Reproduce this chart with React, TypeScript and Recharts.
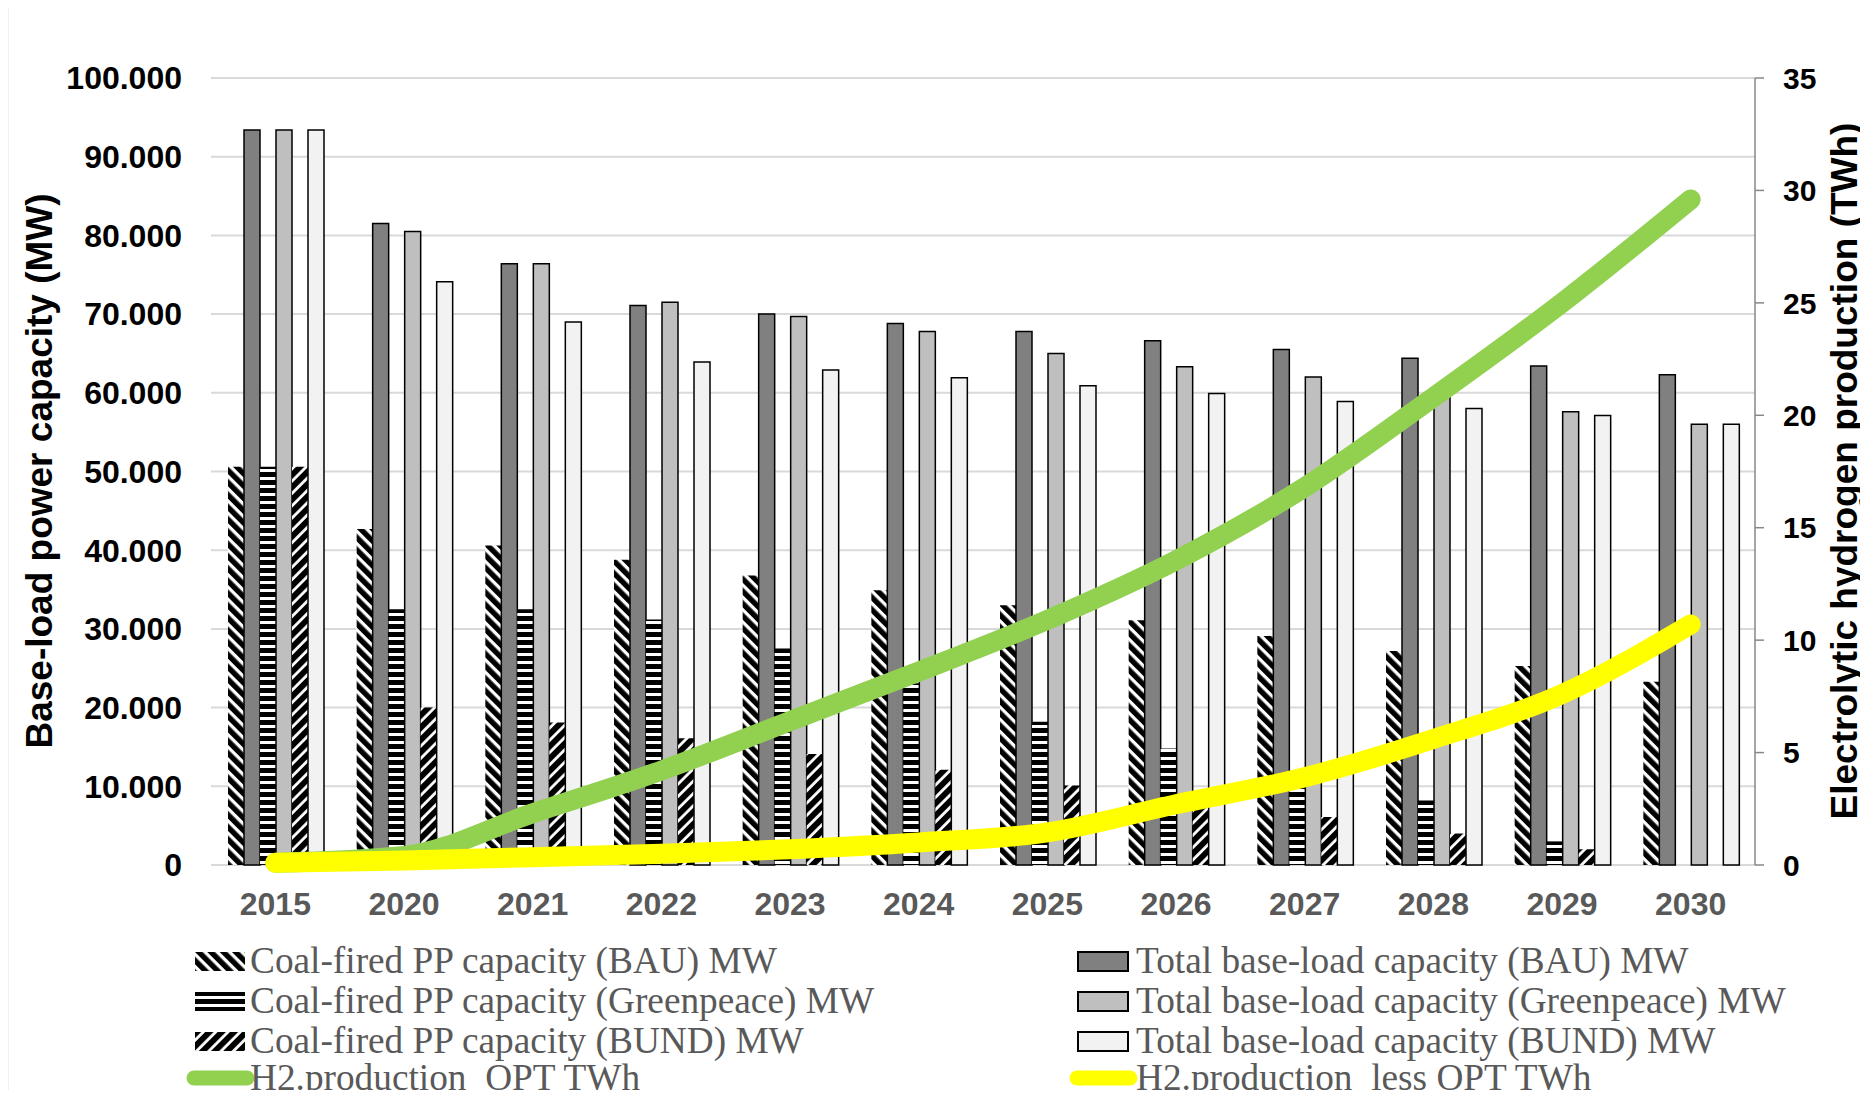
import React from "react";
import { ComposedChart, Bar, Line, XAxis, YAxis, CartesianGrid } from "recharts";

const years = ["2015", "2020", "2021", "2022", "2023", "2024", "2025", "2026", "2027", "2028", "2029", "2030"];

// MW
const coalBau = [50600, 42700, 40600, 38800, 36800, 34900, 33000, 31100, 29100, 27200, 25300, 23300];
const coalGreenpeace = [50600, 32500, 32500, 31200, 27500, 23100, 18200, 14800, 11500, 8200, 3000, 0];
const coalBund = [50600, 20000, 18100, 16100, 14100, 12100, 10100, 8100, 6100, 4000, 2000, 0];
const totalBau = [93400, 81500, 76400, 71100, 70000, 68800, 67800, 66600, 65500, 64400, 63400, 62300];
const totalGreenpeace = [93400, 80500, 76400, 71500, 69700, 67800, 65000, 63300, 62000, 59800, 57600, 56000];
const totalBund = [93400, 74100, 69000, 63900, 62900, 61900, 60900, 59900, 58900, 58000, 57100, 56000];

// TWh
const h2Opt = [0.1, 0.4, 2.3, 4.2, 6.4, 8.6, 10.9, 13.55, 16.8, 20.8, 25.0, 29.6];
const h2LessOpt = [0.1, 0.2, 0.35, 0.5, 0.7, 1.0, 1.45, 2.7, 3.9, 5.6, 7.6, 10.7];

const capacityTicks = [0, 10000, 20000, 30000, 40000, 50000, 60000, 70000, 80000, 90000, 100000];
const hydrogenTicks = [0, 5, 10, 15, 20, 25, 30, 35];

const data = years.map((year, i) => ({
  year,
  coalBau: coalBau[i],
  totalBau: totalBau[i],
  coalGreenpeace: coalGreenpeace[i],
  totalGreenpeace: totalGreenpeace[i],
  coalBund: coalBund[i],
  totalBund: totalBund[i],
  h2Opt: h2Opt[i],
  h2LessOpt: h2LessOpt[i],
}));

type Series = { key: string; name: string; fill?: string; stroke?: string; kind: "bar" | "line" };

const S: Record<string, Series> = {
  coalBau: { key: "coalBau", name: "Coal-fired PP capacity (BAU) MW", fill: "url(#hatchBau)", kind: "bar" },
  totalBau: { key: "totalBau", name: "Total base-load capacity (BAU) MW", fill: "#808080", stroke: "#000", kind: "bar" },
  coalGreenpeace: { key: "coalGreenpeace", name: "Coal-fired PP capacity (Greenpeace) MW", fill: "url(#hatchGreenpeace)", kind: "bar" },
  totalGreenpeace: { key: "totalGreenpeace", name: "Total base-load capacity (Greenpeace) MW", fill: "#BFBFBF", stroke: "#000", kind: "bar" },
  coalBund: { key: "coalBund", name: "Coal-fired PP capacity (BUND) MW", fill: "url(#hatchBund)", kind: "bar" },
  totalBund: { key: "totalBund", name: "Total base-load capacity (BUND) MW", fill: "#F2F2F2", stroke: "#000", kind: "bar" },
  h2Opt: { key: "h2Opt", name: "H2.production_OPT TWh", stroke: "#92D050", kind: "line" },
  h2LessOpt: { key: "h2LessOpt", name: "H2.production_less OPT TWh", stroke: "#FFFF00", kind: "line" },
};

const barOrder = ["coalBau", "totalBau", "coalGreenpeace", "totalGreenpeace", "coalBund", "totalBund"];
const legendLeft = ["coalBau", "coalGreenpeace", "coalBund", "h2Opt"];
const legendRight = ["totalBau", "totalGreenpeace", "totalBund", "h2LessOpt"];
const legendRows = [961, 1001, 1041, 1078];

const SANS = "'Liberation Sans', Arial, sans-serif";
const SERIF = "'Liberation Serif', 'Times New Roman', serif";

const formatMW = (v: number) => (v === 0 ? "0" : (v / 1000).toFixed(3));

function LegendIcon({ s }: { s: Series }) {
  if (s.kind === "line") {
    return (
      <svg width={70} height={20} style={{ display: "block" }}>
        <line x1={8} y1={10} x2={61} y2={10} stroke={s.stroke} strokeWidth={15} strokeLinecap="round" />
      </svg>
    );
  }
  return (
    <svg width={52} height={21} style={{ display: "block" }}>
      <rect x={1} y={1} width={50} height={19} fill={s.fill} stroke={s.stroke || "none"} strokeWidth={2} />
    </svg>
  );
}

function LegendColumn({ keys, iconX, textX }: { keys: string[]; iconX: number; textX: number }) {
  return (
    <>
      {keys.map((k, i) => {
        const s = S[k];
        const cy = legendRows[i];
        const isLine = s.kind === "line";
        return (
          <React.Fragment key={k}>
            <div style={{ position: "absolute", left: isLine ? iconX - 8 : iconX, top: cy - 10 }}>
              <LegendIcon s={s} />
            </div>
            <div
              style={{
                position: "absolute",
                left: textX,
                top: cy - 18,
                lineHeight: "36px",
                fontSize: 37.3,
                fontFamily: SERIF,
                color: "#595959",
                whiteSpace: "nowrap",
              }}
            >
              {s.name}
            </div>
          </React.Fragment>
        );
      })}
    </>
  );
}

export default function App() {
  return (
    <div style={{ position: "relative", width: 1868, height: 1098, margin: -8, background: "#fff", overflow: "hidden" }}>
      <svg width={0} height={0} style={{ position: "absolute" }}>
        <defs>
          <pattern id="hatchBau" patternUnits="userSpaceOnUse" width={8.7} height={8.7} patternTransform="rotate(-45)">
            <rect width={8.7} height={8.7} fill="#fff" />
            <rect width={5.4} height={8.7} fill="#000" />
          </pattern>
          <pattern id="hatchGreenpeace" patternUnits="userSpaceOnUse" width={8} height={8}>
            <rect width={8} height={8} fill="#fff" />
            <rect width={8} height={5} fill="#000" />
          </pattern>
          <pattern id="hatchBund" patternUnits="userSpaceOnUse" width={8.7} height={8.7} patternTransform="rotate(45)">
            <rect width={8.7} height={8.7} fill="#fff" />
            <rect width={5.9} height={8.7} fill="#000" />
          </pattern>
        </defs>
      </svg>

      <div style={{ position: "absolute", left: 0, top: 0 }}>
        <ComposedChart
          width={1868}
          height={1098}
          data={data}
          margin={{ top: 78, right: 0, bottom: 173, left: 0 }}
          barCategoryGap={17}
          barGap={0}
        >
          <CartesianGrid yAxisId="left" vertical={false} stroke="#D9D9D9" strokeWidth={2} />
          <XAxis
            dataKey="year"
            height={60}
            interval={0}
            axisLine={false}
            tickLine={false}
            tickSize={0}
            tickMargin={27}
            tick={{ fontSize: 32, fontWeight: 700, fill: "#595959", fontFamily: SANS }}
          />
          <YAxis
            yAxisId="left"
            width={211}
            domain={[0, 100000]}
            ticks={capacityTicks}
            interval={0}
            axisLine={false}
            tickLine={false}
            tickSize={0}
            tickMargin={29}
            tickFormatter={formatMW}
            tick={{ fontSize: 32, fontWeight: 700, fill: "#000", fontFamily: SANS }}
          />
          <YAxis
            yAxisId="right"
            orientation="right"
            width={113}
            domain={[0, 35]}
            ticks={hydrogenTicks}
            interval={0}
            axisLine={{ stroke: "#878787", strokeWidth: 1.5 }}
            tickLine={{ stroke: "#878787", strokeWidth: 1.5 }}
            tickSize={9}
            tickMargin={19}
            tick={{ fontSize: 30, fontWeight: 700, fill: "#000", fontFamily: SANS }}
          />
          {barOrder.map((k) => (
            <Bar
              key={k}
              yAxisId="left"
              dataKey={k}
              name={S[k].name}
              fill={S[k].fill}
              stroke={S[k].stroke || "none"}
              strokeWidth={S[k].stroke ? 1.5 : 0}
              isAnimationActive={false}
            />
          ))}
          {["h2Opt", "h2LessOpt"].map((k) => (
            <Line
              key={k}
              yAxisId="right"
              dataKey={k}
              name={S[k].name}
              type="monotone"
              stroke={S[k].stroke}
              strokeWidth={20}
              strokeLinecap="round"
              strokeLinejoin="round"
              dot={false}
              activeDot={false}
              isAnimationActive={false}
            />
          ))}
        </ComposedChart>
      </div>

      {/* frame and axis titles */}
      <svg width={1868} height={1098} style={{ position: "absolute", left: 0, top: 0, pointerEvents: "none" }}>
        <polyline points="7,1200 7,3 1866,3 1866,1200" fill="none" stroke="#C8C8C8" strokeWidth={2.5} />
        <text
          x={51.6}
          y={471}
          transform="rotate(-90 51.6 471)"
          textAnchor="middle"
          fontSize={37}
          fontWeight={700}
          fontFamily={SANS}
          fill="#000"
        >
          Base-load power capacity (MW)
        </text>
        <text
          x={1857}
          y={471}
          transform="rotate(-90 1857 471)"
          textAnchor="middle"
          fontSize={37}
          fontWeight={700}
          fontFamily={SANS}
          fill="#000"
        >
          Electrolytic hydrogen production (TWh)
        </text>
      </svg>

      <LegendColumn keys={legendLeft} iconX={194} textX={250} />
      <LegendColumn keys={legendRight} iconX={1077} textX={1136} />
    </div>
  );
}
